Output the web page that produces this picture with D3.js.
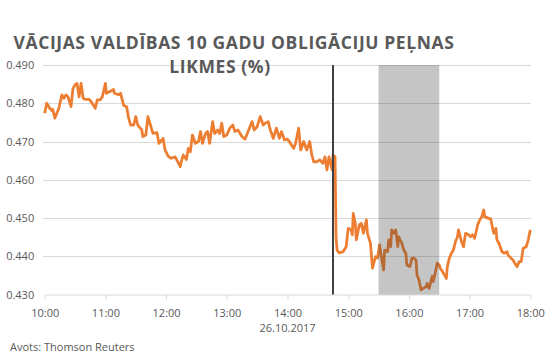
<!DOCTYPE html>
<html>
<head>
<meta charset="utf-8">
<script src="https://cdn.jsdelivr.net/npm/d3@7"></script>
<style>
  body { margin: 0; background: #fff; }
  text { font-family: "Open Sans", sans-serif; fill: #595959; }
</style>
</head>
<body>
<div id="chart"></div>
<script>
// chart text
var titleLines = ["VĀCIJAS VALDĪBAS 10 GADU OBLIGĀCIJU PEĻNAS", "LIKMES (%)"];
var dateLabel = "26.10.2017";
var sourceLabel = "Avots: Thomson Reuters";

// y ticks
var yTicks = [0.430, 0.440, 0.450, 0.460, 0.470, 0.480, 0.490];

// x range and marked times
var timeStart = "10:00", timeEnd = "18:00";
var ecbTime = "14:45";
var bandTimes = ["15:30", "16:30"];

// yield readings (time, %)
var times = [
  "10:00","10:02","10:05","10:07","10:08","10:10","10:12","10:14","10:17","10:19",
  "10:21","10:23","10:26","10:28","10:30","10:32","10:34","10:36","10:38","10:40",
  "10:42","10:44","10:46","10:50","10:52","10:55","10:57","11:00","11:01","11:04",
  "11:08","11:09","11:13","11:15","11:18","11:21","11:23","11:25","11:28","11:30",
  "11:32","11:36","11:37","11:40","11:42","11:45","11:47","11:51","11:53","11:57",
  "11:59","12:02","12:05","12:09","12:12","12:14","12:15","12:17","12:20","12:22",
  "12:24","12:26","12:29","12:32","12:34","12:36","12:39","12:41","12:43","12:46",
  "12:48","12:51","12:53","12:55","12:57","13:00","13:03","13:06","13:08","13:11",
  "13:15","13:18","13:21","13:25","13:27","13:30","13:33","13:36","13:38","13:41",
  "13:43","13:46","13:49","13:52","13:54","13:57","14:00","14:03","14:06","14:08",
  "14:11","14:13","14:16","14:19","14:22","14:24","14:26","14:29","14:32","14:35",
  "14:37","14:39","14:41","14:44","14:45","14:47","14:48","14:49","14:51","14:55",
  "14:58","15:00","15:03","15:04","15:05","15:07","15:08","15:11","15:13","15:15",
  "15:18","15:19","15:22","15:24","15:27","15:29","15:31","15:32","15:35","15:36",
  "15:39","15:40","15:42","15:43","15:45","15:47","15:49","15:50","15:53","15:55",
  "15:57","15:58","16:01","16:03","16:05","16:07","16:08","16:10","16:12","16:14",
  "16:17","16:18","16:20","16:23","16:24","16:26","16:28","16:30","16:31","16:34",
  "16:37","16:38","16:40","16:42","16:44","16:46","16:48","16:49","16:52","16:54",
  "16:56","16:59","17:01","17:03","17:05","17:08","17:10","17:12","17:14","17:15",
  "17:19","17:21","17:23","17:24","17:26","17:27","17:29","17:32","17:34","17:37",
  "17:38","17:41","17:43","17:45","17:47","17:49","17:51","17:53","17:56","17:58",
  "18:00"
];
var yields = [
  0.4774,0.4800,0.4787,0.4781,0.4784,0.4761,0.4774,0.4787,0.4822,0.4813,
  0.4822,0.4817,0.4791,0.4839,0.4848,0.4852,0.4817,0.4852,0.4813,0.4810,
  0.4810,0.4810,0.4804,0.4787,0.4809,0.4809,0.4817,0.4852,0.4826,0.4830,
  0.4836,0.4826,0.4822,0.4826,0.4795,0.4791,0.4761,0.4743,0.4743,0.4765,
  0.4743,0.4730,0.4713,0.4717,0.4765,0.4739,0.4721,0.4723,0.4695,0.4708,
  0.4678,0.4662,0.4656,0.4660,0.4645,0.4634,0.4647,0.4665,0.4653,0.4682,
  0.4673,0.4717,0.4695,0.4700,0.4726,0.4695,0.4721,0.4726,0.4695,0.4752,
  0.4721,0.4730,0.4721,0.4748,0.4713,0.4717,0.4735,0.4743,0.4726,0.4730,
  0.4713,0.4706,0.4726,0.4752,0.4730,0.4739,0.4765,0.4743,0.4748,0.4752,
  0.4730,0.4708,0.4735,0.4708,0.4726,0.4704,0.4706,0.4695,0.4682,0.4695,
  0.4735,0.4678,0.4700,0.4678,0.4700,0.4665,0.4647,0.4647,0.4652,0.4643,
  0.4660,0.4626,0.4660,0.4626,0.4665,0.4660,0.4451,0.4416,0.4409,0.4412,
  0.4425,0.4473,0.4469,0.4456,0.4512,0.4486,0.4443,0.4482,0.4486,0.4460,
  0.4495,0.4460,0.4434,0.4369,0.4399,0.4395,0.4430,0.4412,0.4364,0.4416,
  0.4412,0.4443,0.4425,0.4469,0.4460,0.4469,0.4425,0.4451,0.4434,0.4416,
  0.4408,0.4377,0.4373,0.4395,0.4395,0.4390,0.4351,0.4338,0.4312,0.4316,
  0.4320,0.4329,0.4316,0.4347,0.4334,0.4356,0.4382,0.4377,0.4369,0.4356,
  0.4342,0.4373,0.4395,0.4408,0.4416,0.4438,0.4451,0.4469,0.4438,0.4425,
  0.4460,0.4456,0.4451,0.4456,0.4447,0.4482,0.4495,0.4503,0.4521,0.4503,
  0.4499,0.4497,0.4469,0.4460,0.4473,0.4443,0.4434,0.4412,0.4408,0.4412,
  0.4403,0.4395,0.4390,0.4380,0.4373,0.4386,0.4386,0.4421,0.4425,0.4443,
  0.4469
];

var parseTime = d3.timeParse("%d.%m.%Y %H:%M");
function toDate(t) { return parseTime(dateLabel + " " + t); }

var data = times.map(function(t, i) {
    return { time: toDate(t), value: yields[i] };
});

var width = 554, height = 364;

var svg = d3.select("#chart")
    .append("svg")
    .attr("width", width)
    .attr("height", height);

var x = d3.scaleTime()
    .domain([toDate(timeStart), toDate(timeEnd)])
    .range([44.7, 530.3]);

var y = d3.scaleLinear()
    .domain([0.430, 0.490])
    .range([294.5, 65]);

// gridlines
svg.append("g")
    .selectAll("line")
    .data(yTicks.slice(1))
    .enter()
    .append("line")
    .attr("x1", 43)
    .attr("x2", 531)
    .attr("y1", d => Math.round(y(d)) + 0.5)
    .attr("y2", d => Math.round(y(d)) + 0.5)
    .style("stroke", "#d9d9d9")
    .style("stroke-width", 1);

// y labels
var yAxis = svg.append("g")
    .attr("transform", "translate(44.7,0)")
    .call(d3.axisLeft(y).tickValues(yTicks).tickSize(0).tickPadding(10.5).tickFormat(d3.format(".3f")));
yAxis.select(".domain").remove();
yAxis.selectAll("text").style("font-size", "11px").style("fill", "#595959")
    .style("font-family", "'Open Sans', sans-serif");

// x axis
var xAxis = svg.append("g")
    .attr("transform", "translate(0,294.5)")
    .call(d3.axisBottom(x)
        .ticks(d3.timeHour.every(1))
        .tickFormat(d3.timeFormat("%H:%M"))
        .tickSize(5)
        .tickSizeOuter(0)
        .tickPadding(10));
xAxis.select(".domain").style("stroke", "#d9d9d9");
xAxis.selectAll("line").style("stroke", "#d9d9d9");
xAxis.selectAll("text").style("font-size", "11px").style("fill", "#595959")
    .style("font-family", "'Open Sans', sans-serif");

// price line
var line = d3.line()
    .x(d => x(d.time))
    .y(d => y(d.value));

svg.append("path")
    .datum(data)
    .attr("d", line)
    .style("fill", "none")
    .style("stroke", "#ed7d31")
    .style("stroke-width", 2.75)
    .style("stroke-linejoin", "round");

// shaded press conference band (over the line)
svg.append("rect")
    .attr("x", x(toDate(bandTimes[0])))
    .attr("y", y(0.490))
    .attr("width", x(toDate(bandTimes[1])) - x(toDate(bandTimes[0])))
    .attr("height", y(0.430) - y(0.490))
    .style("fill", "rgba(64,64,64,0.3)");

// ECB decision marker
svg.append("line")
    .attr("x1", x(toDate(ecbTime)))
    .attr("x2", x(toDate(ecbTime)))
    .attr("y1", y(0.490))
    .attr("y2", y(0.430))
    .style("stroke", "#404040")
    .style("stroke-width", 2);

// date under 14:00
svg.append("text")
    .attr("x", x(toDate("14:00")))
    .attr("y", 332)
    .attr("text-anchor", "middle")
    .style("font-size", "11px")
    .text(dateLabel);

// Chart Title (wrapped over two lines)
var title = svg.append("text")
    .attr("text-anchor", "middle")
    .style("font-size", "17.5px")
    .style("font-weight", "bold")
    .style("letter-spacing", "0.6px");

title.append("tspan")
    .attr("x", 234)
    .attr("y", 49)
    .text(titleLines[0]);

title.append("tspan")
    .attr("x", 220)
    .attr("y", 73)
    .text(titleLines[1]);

// source
svg.append("text")
    .attr("x", 10)
    .attr("y", 351)
    .style("font-size", "11px")
    .text(sourceLabel);
</script>
</body>
</html>
